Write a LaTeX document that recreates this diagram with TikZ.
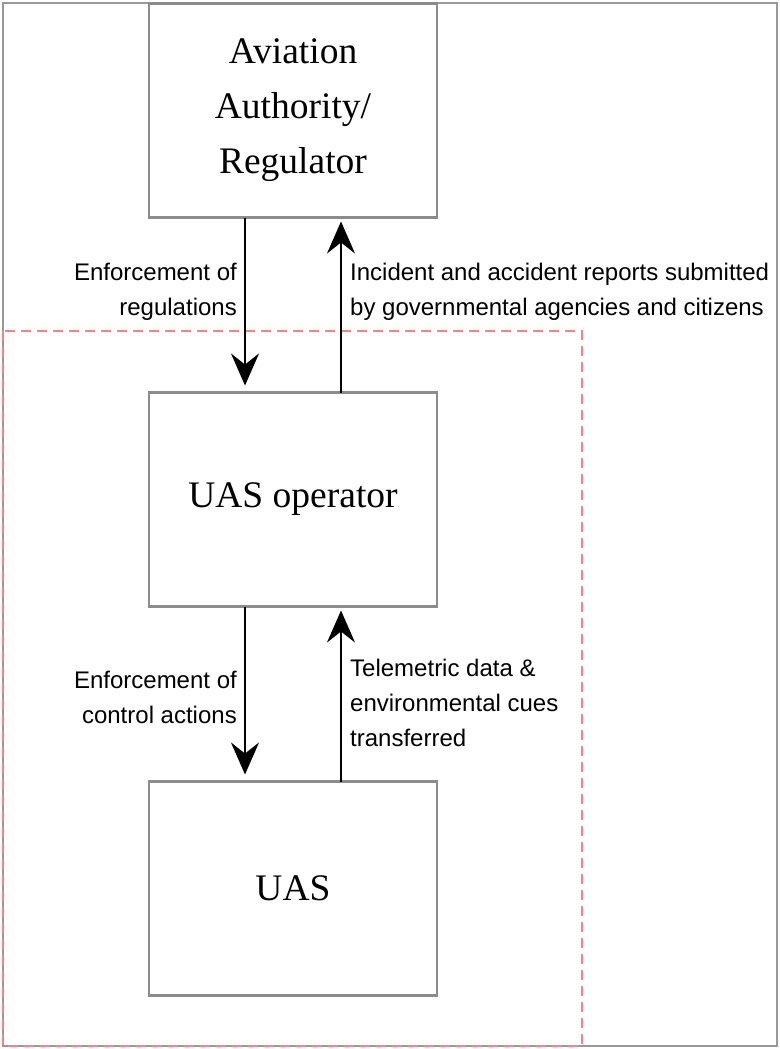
\documentclass[tikz,border=0pt]{standalone}
\usepackage{fontspec}
\setmainfont{Liberation Serif}
\newfontfamily\labelfont{Liberation Sans}
\usetikzlibrary{positioning,arrows.meta}
\tikzset{box/.style={draw=gray!90,line width=2.5pt,outer sep=0pt,
        minimum width=288pt,minimum height=214pt,align=center,
        font=\fontsize{37.5}{55}\selectfont},
    flow/.style={draw,line width=2pt,-{Stealth[length=32pt,width=28pt,inset=11pt]}},
    down/.style={flow,shorten >=7pt},
    up/.style={flow,shorten >=4pt},
    note/.style={font=\labelfont\fontsize{24}{35}\selectfont,inner sep=0pt},
    frame/.style={draw=gray!80,line width=2pt},
    scope box/.style={draw=red!50,line width=1.6pt,dash pattern=on 10pt off 6pt},
    node distance=175pt}
\begin{document}
\begin{tikzpicture}[x=1pt,y=-1pt]
\useasboundingbox (0,0) rectangle (779,1049);
\draw[frame] (3,3) rectangle (777,1046);
\draw[scope box] (3,331) rectangle (582,1046);
% boxes
\node[box] (authority) at (293,110.5) {\raisebox{-4pt}{\parbox{280pt}{\centering Aviation\\Authority/\\Regulator}}};
\node[box,below=175pt of authority] (operator) {UAS operator};
\node[box,below=175pt of operator] (uas) {UAS};
% connectors
\draw[down] ([xshift=-48pt]authority.south) -- ([xshift=-48pt]operator.north);
\draw[up] ([xshift=48pt]operator.north) -- ([xshift=48pt]authority.south);
\draw[down] ([xshift=-48pt]operator.south) -- ([xshift=-48pt]uas.north);
\draw[up] ([xshift=48pt]uas.north) -- ([xshift=48pt]operator.south);
% labels
\node[note,align=right,anchor=east] (regs) at (237,292) {Enforcement of\\regulations};
\node[note,align=left,anchor=west] (reports) at (350,292) {Incident and accident reports submitted\\by governmental agencies and citizens};
\node[note,align=right,anchor=east] (control) at (237,697) {Enforcement of\\control actions};
\node[note,align=left,anchor=west] (telemetry) at (350,703) {Telemetric data \&\\environmental cues\\transferred};
\end{tikzpicture}
\end{document}
